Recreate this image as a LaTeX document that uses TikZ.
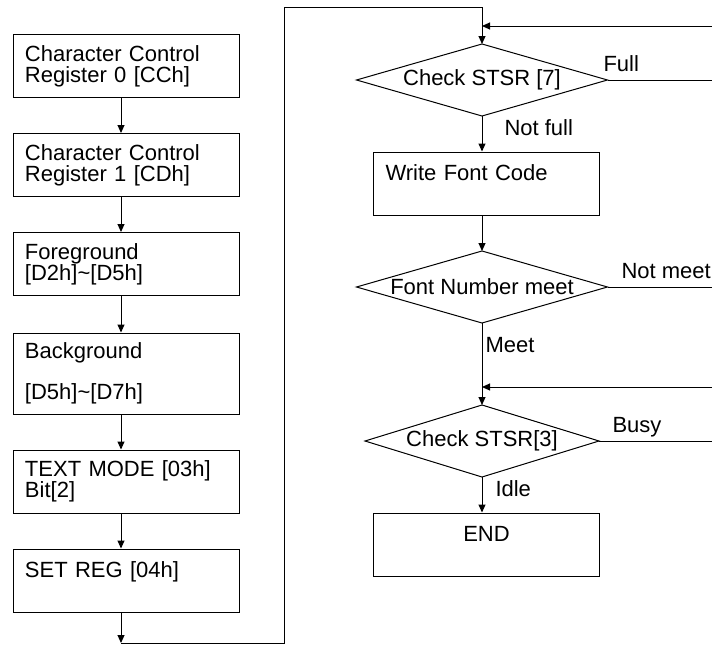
\documentclass[tikz,border=0pt]{standalone}
\usepackage{fontspec}
\setmainfont{Liberation Sans}
\usetikzlibrary{arrows.meta, positioning}

\tikzset{
  regbox/.style={draw, rectangle, text width=101pt, inner xsep=6pt, minimum height=31.5pt,
    align=left, font=\fontsize{11pt}{10.5pt}\selectfont},
  decide/.style={rectangle, inner sep=0pt, minimum width=125pt, minimum height=35.5pt,
    font=\fontsize{11pt}{10.5pt}\selectfont},
  lbl/.style={inner sep=0pt, anchor=base west, font=\fontsize{11pt}{10.5pt}\selectfont},
}

\begin{document}
\begin{tikzpicture}[x=0.5pt, y=-0.5pt, >={Triangle[length=4pt,width=3.5pt]}, line width=0.5pt]
    \useasboundingbox (0,0) rectangle (712,648);

    % Register setup column
    \node[regbox] (ccr0) at (126,66) {Character Control\\Register 0 [CCh]};
    \node[regbox] (ccr1) at (126,165) {Character Control\\Register 1 [CDh]};
    \node[regbox] (fg) at (126,264) {Foreground\\{}[D2h]\textasciitilde[D5h]};
    \node[regbox, minimum height=40.5pt] (bg) at (126,373.5) {Background\\[10pt]{}[D5h]\textasciitilde[D7h]};
    \node[regbox] (tmode) at (126,481.5) {TEXT MODE [03h]\\Bit[2]};
    \node[regbox] (setreg) at (126,580.5) {SET REG [04h]\\\mbox{}};

    \foreach \a/\b in {ccr0/ccr1, ccr1/fg, fg/bg, bg/tmode, tmode/setreg}
        \draw[->] ([xshift=-2.5pt]\a.south) -- ([xshift=-2.5pt]\b.north);

    % Font write column
    \node[decide] (chkA) at (482,80) {Check STSR [7]};
    \node[regbox] (wfc) at (486.5,183.5) {Write Font Code\\\mbox{}};
    \node[decide] (fnm) at (482,287) {Font Number meet};
    \node[decide, minimum width=116.5pt] (chkB) at (482,441) {Check STSR[3]};
    \node[regbox, align=center] (fin) at (486.5,544.5) {END\\\mbox{}};

    \foreach \d in {chkA, fnm, chkB}
        \draw (\d.north) -- (\d.east) -- (\d.south) -- (\d.west) -- cycle;

    % Link between columns
    \coordinate (sink) at (121,643);
    \coordinate (turn) at (284,7);
    \draw[->] ([xshift=-2.5pt]setreg.south) -- (sink);
    \draw[->] (sink) -| (turn) -| (chkA.north);

    \draw[->] (chkA.south) -- (chkA.south |- wfc.north);
    \draw[->] (wfc.south -| fnm.north) -- (fnm.north);
    \draw[->] (fnm.south) -- (chkB.north);
    \draw[->] (chkB.south) -- (chkB.south |- fin.north);

    % Loops back (right edge)
    \coordinate (rimA) at (714,26);
    \coordinate (rimB) at (714,387);
    \draw[->] (chkA.east) -| (rimA) -- (rimA -| chkA.north);
    \draw (fnm.east) -| (rimA);
    \draw[->] (chkB.east) -| (rimB) -- (rimB -| chkB.north);

    % Branch labels
    \node[lbl] (lFull) at (603,71) {Full};
    \node[lbl] (lNotFull) at (504,135) {Not full};
    \node[lbl] (lNotMeet) at (621,278) {Not meet};
    \node[lbl] (lMeet) at (485,352) {Meet};
    \node[lbl] (lBusy) at (612,432) {Busy};
    \node[lbl] (lIdle) at (495,496) {Idle};
\end{tikzpicture}
\end{document}
